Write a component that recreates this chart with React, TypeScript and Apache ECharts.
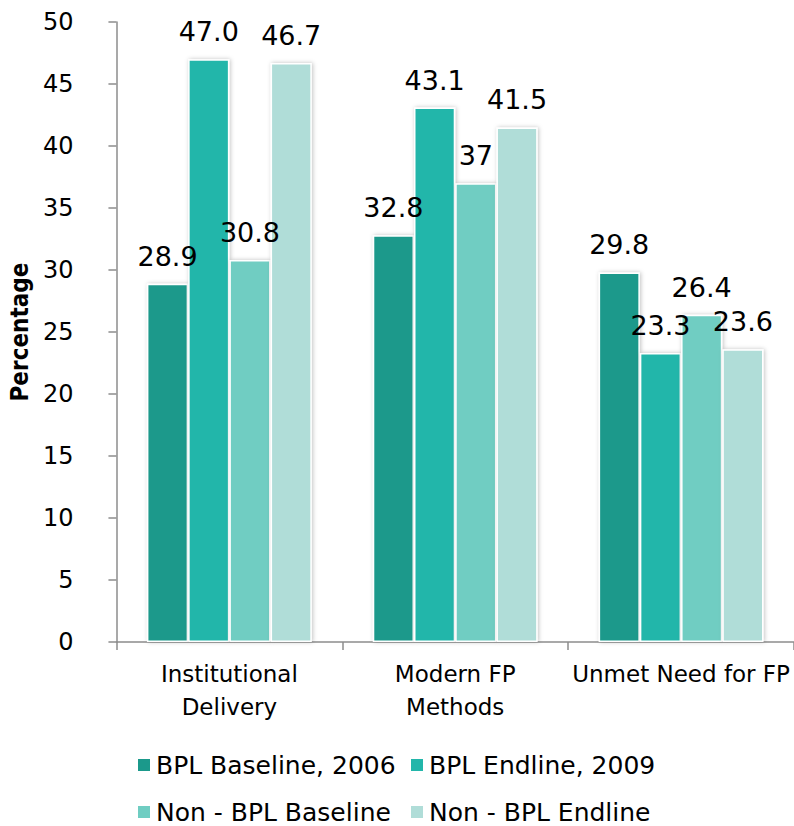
import React, { useEffect, useRef } from "react";
import * as echarts from "echarts";

const categories = ["Institutional\nDelivery", "Modern FP\nMethods", "Unmet Need for FP"];
const seriesNames = ["BPL Baseline, 2006", "BPL Endline, 2009", "Non - BPL Baseline", "Non - BPL Endline"];
const bplBaseline = [28.9, 32.8, 29.8];
const bplEndline = [47.0, 43.1, 23.3];
const nonBplBaseline = [30.8, 37, 26.4];
const nonBplEndline = [46.7, 41.5, 23.6];
const labelTexts = [
  ["28.9", "32.8", "29.8"],
  ["47.0", "43.1", "23.3"],
  ["30.8", "37", "26.4"],
  ["46.7", "41.5", "23.6"],
];
const colors = ["#1b998b", "#22b6aa", "#6fcdc2", "#b0ddd8"];
const FONT = "DejaVu Sans";

export default function App() {
  const ref = useRef<HTMLDivElement>(null);
  useEffect(() => {
    document.body.style.margin = "0";
    if (!ref.current) return;
    const chart = echarts.init(ref.current, null, { renderer: "svg" });
    const dataSets = [bplBaseline, bplEndline, nonBplBaseline, nonBplEndline];
    const legendBase = {
      left: 136,
      padding: 0,
      itemWidth: 14,
      itemHeight: 14,
      itemGap: 8,
      icon: "rect",
      textStyle: { fontSize: 25, lineHeight: 26, color: "#000", fontFamily: FONT, width: 245 },
    };
    chart.setOption({
      animation: false,
      textStyle: { fontFamily: FONT },
      grid: { left: 115, right: 0, top: 22, bottom: 184 },
      legend: [
        { ...legendBase, top: 752, data: seriesNames.slice(0, 2) },
        { ...legendBase, top: 799, data: seriesNames.slice(2, 4) },
      ],
      xAxis: {
        type: "category",
        data: categories,
        axisLine: { lineStyle: { color: "#8c8c8c", width: 1.5 } },
        axisTick: { show: true, length: 8, lineStyle: { color: "#8c8c8c", width: 1.5 } },
        axisLabel: { fontSize: 23, color: "#000", lineHeight: 33, margin: 15, fontFamily: FONT, interval: 0 },
      },
      yAxis: {
        type: "value",
        min: 0,
        max: 50,
        interval: 5,
        name: "Percentage",
        nameLocation: "middle",
        nameGap: 75,
        nameRotate: 90,
        nameTextStyle: { fontSize: 24, fontWeight: "bold", color: "#000", fontFamily: "DejaVu Sans Condensed" },
        axisLine: { show: true, lineStyle: { color: "#8c8c8c", width: 1.5 } },
        axisTick: { show: true, length: 8, lineStyle: { color: "#8c8c8c", width: 1.5 } },
        splitLine: { show: false },
        axisLabel: { fontSize: 24, color: "#000", margin: 43, fontFamily: FONT },
      },
      series: dataSets.map((d, si) => ({
        name: seriesNames[si],
        type: "bar",
        data: d,
        barGap: "0%",
        barCategoryGap: "27%",
        itemStyle: {
          color: colors[si],
          borderColor: "#fff",
          borderWidth: 1.5,
          shadowBlur: 4,
          shadowColor: "rgba(0,0,0,0.25)",
          shadowOffsetX: 1,
          shadowOffsetY: 0,
        },
        label: {
          show: true,
          position: "top",
          distance: 14,
          fontSize: 27,
          color: "#000",
          fontFamily: FONT,
          formatter: (p: any) => labelTexts[si][p.dataIndex],
        },
      })),
    });
    return () => chart.dispose();
  }, []);
  return <div ref={ref} style={{ width: 794, height: 826 }} />;
}
